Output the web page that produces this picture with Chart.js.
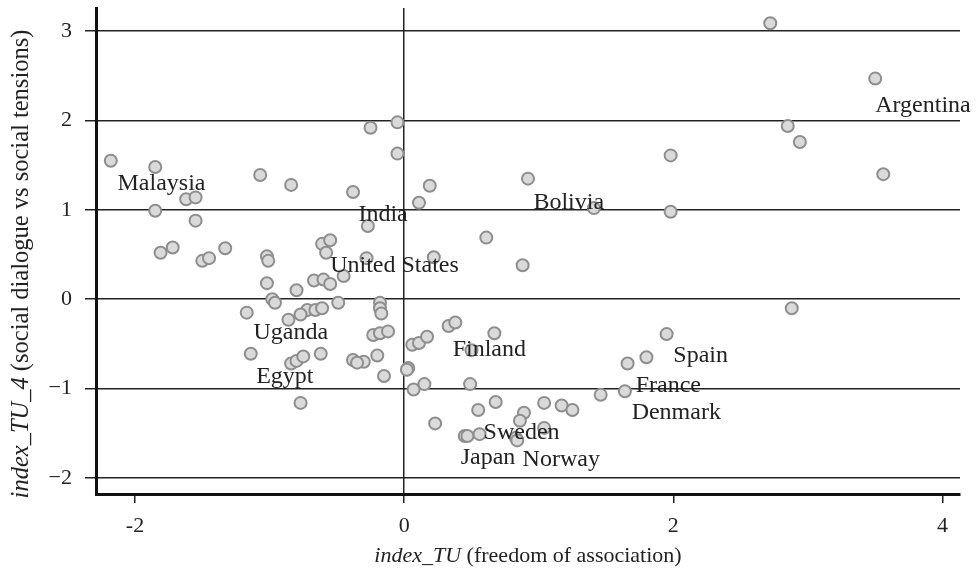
<!DOCTYPE html>
<html>
<head>
<meta charset="utf-8">
<script src="https://cdn.jsdelivr.net/npm/chart.js@4.4.1/dist/chart.umd.min.js"></script>
<style>
  html, body { margin: 0; padding: 0; background: #fff; }
</style>
</head>
<body>
<canvas id="scatter" width="977" height="573"></canvas>
<script>
// index_TU (x) vs index_TU_4 (y), one entry per country
const xValues = [
  -2.18, -1.85, -1.62, -1.55, -1.85, -1.55, -1.07, -0.84, -0.38, -0.25,
  -0.05, -0.05, -0.27, -1.81, -1.72, -1.50, -1.45, -1.33, -1.02, -1.01,
  -1.02, -0.98, -0.96, -0.80, -0.61, -0.55, -0.58, -0.28, 0.22, -0.67,
  -0.60, -0.55, -0.45, -0.49, -0.18, -0.18, -0.17, -0.72, -0.66, -0.61,
  -0.77, -1.17, -0.86, -0.23, -0.18, -0.12, -1.14, -0.84, -0.80, -0.75,
  -0.62, -0.38, -0.30, -0.35, -0.20, -0.15, -0.77, 0.03, 0.02, 0.07,
  0.15, 0.06, 0.11, 0.17, 0.33, 0.38, 0.67, 0.50, 0.49, 0.23,
  0.55, 0.68, 0.45, 0.47, 0.56, 0.89, 0.86, 0.83, 0.84, 1.04,
  1.04, 1.17, 1.25, 1.46, 1.64, 1.66, 1.80, 1.95, 0.61, 0.19,
  0.11, 0.92, 1.98, 1.41, 1.98, 0.88, 2.72, 3.50, 2.85, 2.94,
  3.56, 2.88
];
const yValues = [
  1.55, 1.48, 1.12, 1.14, 0.99, 0.88, 1.39, 1.28, 1.20, 1.92,
  1.98, 1.63, 0.82, 0.52, 0.58, 0.43, 0.46, 0.57, 0.48, 0.43,
  0.18, 0.00, -0.04, 0.10, 0.62, 0.66, 0.52, 0.46, 0.47, 0.21,
  0.22, 0.17, 0.26, -0.04, -0.04, -0.10, -0.16, -0.12, -0.12, -0.10,
  -0.17, -0.15, -0.23, -0.40, -0.38, -0.36, -0.61, -0.72, -0.69, -0.64,
  -0.61, -0.68, -0.70, -0.71, -0.63, -0.86, -1.16, -0.77, -0.79, -1.01,
  -0.95, -0.51, -0.49, -0.42, -0.30, -0.26, -0.38, -0.57, -0.95, -1.39,
  -1.24, -1.15, -1.53, -1.53, -1.51, -1.27, -1.36, -1.55, -1.58, -1.16,
  -1.44, -1.19, -1.24, -1.07, -1.03, -0.72, -0.65, -0.39, 0.69, 1.27,
  1.08, 1.35, 1.61, 1.02, 0.98, 0.38, 3.09, 2.47, 1.94, 1.76,
  1.40, -0.10
];

// country names and where their text starts (data units)
const countryNames = ["Malaysia", "India", "Bolivia", "Argentina", "United States", "Uganda", "Egypt",
  "Finland", "Spain", "France", "Denmark", "Sweden", "Japan", "Norway"];
const countryX = [-2.13, -0.34, 0.96, 3.50, -0.55, -1.12, -1.10, 0.36, 2.00, 1.72, 1.69, 0.59, 0.42, 0.88];
const countryY = [1.29, 0.95, 1.08, 2.17, 0.38, -0.38, -0.87, -0.57, -0.63, -0.97, -1.27, -1.49, -1.77, -1.80];

const xTicks = [-2, 0, 2, 4];
const yTicks = [-2, -1, 0, 1, 2, 3];

const serif = '"Liberation Serif", "DejaVu Serif", serif';
const ink = "#222";

const points = xValues.map((x, i) => ({ x, y: yValues[i] }));

const countryLabels = {
  id: "countryLabels",
  afterDatasetsDraw(chart) {
    const { ctx, scales } = chart;
    ctx.save();
    ctx.font = `24px ${serif}`;
    ctx.fillStyle = ink;
    ctx.textAlign = "left";
    ctx.textBaseline = "middle";
    countryNames.forEach((name, i) => {
      ctx.fillText(name, scales.x.getPixelForValue(countryX[i]), scales.y.getPixelForValue(countryY[i]));
    });
    ctx.restore();
  },
};

// axis titles with the italic variable name in front
function mixedTitle(ctx, parts, cx, cy, size) {
  const widths = parts.map((p) => {
    ctx.font = `${p.italic ? "italic " : ""}${size}px ${serif}`;
    return ctx.measureText(p.text).width;
  });
  let x = cx - widths.reduce((a, b) => a + b, 0) / 2;
  parts.forEach((p, i) => {
    ctx.font = `${p.italic ? "italic " : ""}${size}px ${serif}`;
    ctx.fillText(p.text, x, cy);
    x += widths[i];
  });
}

const axisTitles = {
  id: "axisTitles",
  afterDraw(chart) {
    const { ctx, chartArea } = chart;
    ctx.save();
    ctx.fillStyle = ink;
    ctx.textAlign = "left";
    ctx.textBaseline = "middle";
    mixedTitle(ctx, [{ text: "index_TU", italic: true }, { text: " (freedom of association)" }],
      (chartArea.left + chartArea.right) / 2, 556, 22);
    ctx.translate(22, 264);
    ctx.rotate(-Math.PI / 2);
    mixedTitle(ctx, [{ text: "index_TU_4", italic: true }, { text: " (social dialogue vs social tensions)" }], 0, 0, 24.5);
    ctx.restore();
  },
};

new Chart(document.querySelector("#scatter"), {
  type: "scatter",
  data: {
    datasets: [{
      data: points,
      pointRadius: 6,
      pointHoverRadius: 6,
      pointBackgroundColor: "#dadada",
      pointBorderColor: "#8e8e8e",
      pointBorderWidth: 2,
    }],
  },
  options: {
    responsive: false,
    animation: false,
    events: [],
    layout: { padding: { top: 8, right: 17, left: 0, bottom: 0 } },
    plugins: { legend: { display: false }, tooltip: { enabled: false } },
    scales: {
      x: {
        type: "linear",
        min: -2.29,
        max: 4.13,
        afterBuildTicks: (scale) => { scale.ticks = xTicks.map((value) => ({ value })); },
        afterFit: (scale) => {
          scale.height = 79;
          scale.paddingLeft = 0;
          scale.paddingRight = 0;
        },
        border: { display: true, color: "#111", width: 3 },
        grid: {
          color: (c) => (c.tick && c.tick.value === 0 ? ink : "rgba(0,0,0,0)"),
          tickColor: ink,
          lineWidth: 1.5,
          tickLength: 9,
        },
        ticks: {
          color: ink,
          font: { family: serif, size: 22 },
          padding: 10,
          callback: (v) => String(v),
        },
      },
      y: {
        type: "linear",
        min: -2.18,
        max: 3.26,
        afterBuildTicks: (scale) => { scale.ticks = yTicks.map((value) => ({ value })); },
        afterFit: (scale) => {
          scale.width = 96;
          scale.paddingTop = 0;
          scale.paddingBottom = 0;
        },
        border: { display: true, color: "#111", width: 3 },
        grid: {
          color: ink,
          tickColor: ink,
          lineWidth: 1.5,
          tickLength: 11,
        },
        ticks: {
          color: ink,
          font: { family: serif, size: 22 },
          padding: 13,
          callback: (v) => (v < 0 ? "\u2212" + Math.abs(v) : String(v)),
        },
      },
    },
  },
  plugins: [countryLabels, axisTitles],
});
</script>
</body>
</html>
